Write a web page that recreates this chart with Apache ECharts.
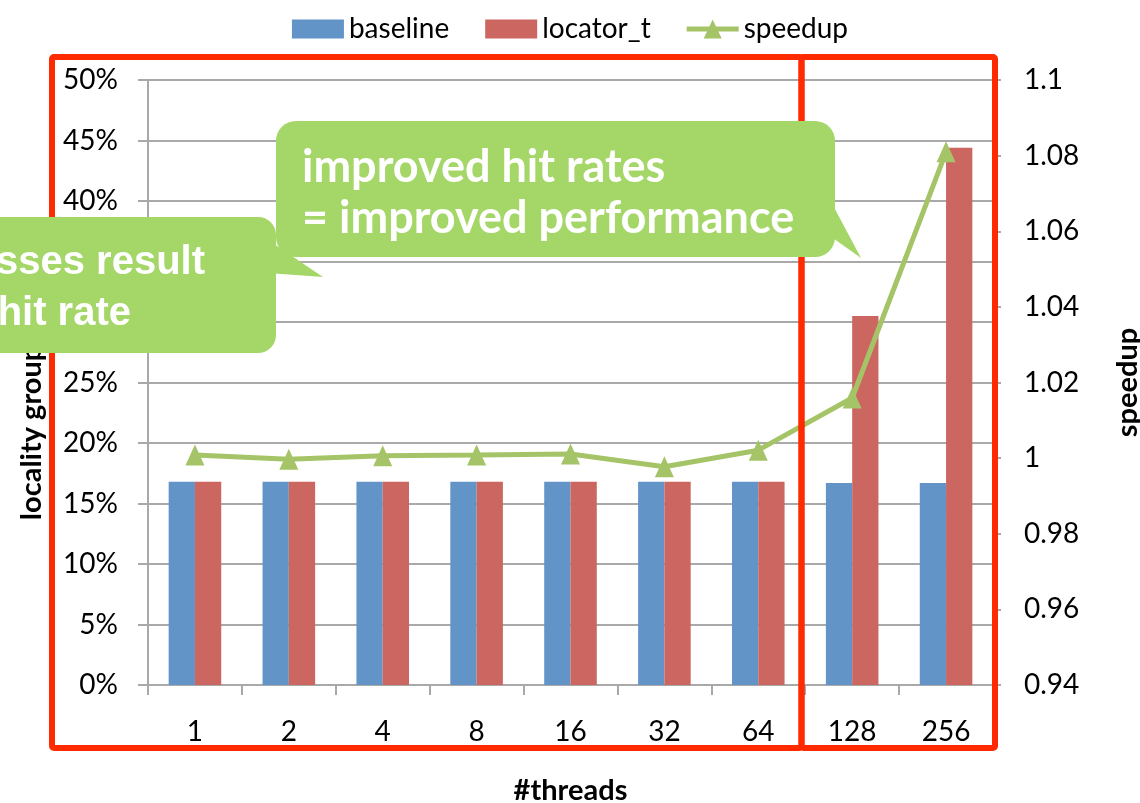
<!DOCTYPE html>
<html>
<head>
<meta charset="utf-8">
<title>locality group hit rate and speedup</title>
<script src="https://cdn.jsdelivr.net/npm/echarts@6.0.0/dist/echarts.min.js"></script>
<style>
  html, body { margin: 0; padding: 0; background: #ffffff; }
  #chart { width: 1140px; height: 803px; }
</style>
</head>
<body>
<div id="chart"></div>
<script>
// Thread counts on the x axis
const categories = ['1', '2', '4', '8', '16', '32', '64', '128', '256'];
// Locality group hit rate (%) per configuration
const baseline = [16.8, 16.8, 16.8, 16.8, 16.8, 16.8, 16.8, 16.7, 16.7];
const locatorT = [16.8, 16.8, 16.8, 16.8, 16.8, 16.8, 16.8, 30.5, 44.4];
// Speedup of locator_t over baseline
const speedup = [1.0008, 0.9997, 1.0006, 1.0008, 1.0011, 0.9977, 1.0021, 1.0159, 1.081];

// Axis ranges
const hitRateAxis = { min: 0, max: 50, interval: 5 };
const speedupAxis = { min: 0.94, max: 1.1, interval: 0.02 };

// Callout text
const leftNote = ['fewer misses result', 'in higher hit rate'];
const rightNote = ['improved hit rates', '= improved performance'];

const GRID = '#a9a9a9';
const LABEL_FONT = 'Lato, "Noto Sans", sans-serif';
const NOTE_GREEN = '#a4d668';
const FRAME_RED = '#ff2a00';
const LINE_GREEN = '#a5c467';

// legend glyph for the speedup series: a thick line with a triangle marker
const LINE_MARKER_ICON = 'path://M0 7 L52 7 L52 12 L0 12 Z M26 0 L35 19 L17 19 Z';

const chart = echarts.init(document.getElementById('chart'), null, { renderer: 'canvas' });

const option = {
  backgroundColor: '#ffffff',
  animation: false,
  textStyle: { fontFamily: LABEL_FONT },
  legend: {
    top: 10,
    left: 'center',
    itemWidth: 52,
    itemHeight: 19,
    itemGap: 36,
    textStyle: { fontSize: 28, color: '#000', fontFamily: LABEL_FONT },
    data: [
      { name: 'baseline', icon: 'rect' },
      { name: 'locator_t', icon: 'rect' },
      { name: 'speedup', icon: LINE_MARKER_ICON, itemStyle: { color: LINE_GREEN, borderWidth: 0 } }
    ]
  },
  grid: { left: 148, right: 147, top: 80, bottom: 118, containLabel: false, outerBoundsMode: 'none' },
  xAxis: {
    type: 'category',
    data: categories,
    name: '#threads',
    nameLocation: 'middle',
    nameGap: 91,
    nameTextStyle: { fontSize: 29, fontWeight: 'bold', color: '#000', fontFamily: LABEL_FONT },
    axisLine: { lineStyle: { color: GRID, width: 2 } },
    axisTick: { show: true, length: 10, lineStyle: { color: GRID, width: 2 } },
    axisLabel: { margin: 33, fontSize: 28, color: '#000', fontFamily: LABEL_FONT }
  },
  yAxis: [
    {
      type: 'value',
      min: hitRateAxis.min,
      max: hitRateAxis.max,
      interval: hitRateAxis.interval,
      name: 'locality group hit rate',
      nameLocation: 'middle',
      nameGap: 102,
      nameTextStyle: { fontSize: 29, fontWeight: 'bold', color: '#000', fontFamily: LABEL_FONT },
      axisLine: { show: true, lineStyle: { color: GRID, width: 2 } },
      axisTick: { show: true, length: 10, lineStyle: { color: GRID, width: 2 } },
      axisLabel: { margin: 30, fontSize: 28, color: '#000', fontFamily: LABEL_FONT, formatter: '{value}%' },
      splitLine: { show: true, lineStyle: { color: GRID, width: 2 } }
    },
    {
      type: 'value',
      position: 'right',
      min: speedupAxis.min,
      max: speedupAxis.max,
      interval: speedupAxis.interval,
      name: 'speedup',
      nameLocation: 'middle',
      nameGap: 120,
      nameTextStyle: { fontSize: 29, fontWeight: 'bold', color: '#000', fontFamily: LABEL_FONT },
      axisLine: { show: true, lineStyle: { color: GRID, width: 2 } },
      axisTick: { show: true, length: 8, lineStyle: { color: GRID, width: 2 } },
      axisLabel: {
        margin: 31, fontSize: 28, color: '#000', fontFamily: LABEL_FONT,
        formatter: (v) => String(parseFloat(v.toFixed(2)))
      },
      splitLine: { show: false }
    }
  ],
  series: [
    {
      name: 'baseline',
      type: 'bar',
      data: baseline,
      barWidth: '28%',
      barGap: '0%',
      itemStyle: { color: '#6394c8' }
    },
    {
      name: 'locator_t',
      type: 'bar',
      data: locatorT,
      barWidth: '28%',
      barGap: '0%',
      itemStyle: { color: '#cc6660' }
    },
    {
      name: 'speedup',
      type: 'line',
      yAxisIndex: 1,
      data: speedup,
      z: 5,
      symbol: 'triangle',
      symbolSize: [19, 21],
      lineStyle: { color: LINE_GREEN, width: 5 },
      itemStyle: { color: LINE_GREEN }
    }
  ],
  graphic: [
    // red frames around the two thread ranges
    {
      type: 'rect', z: 100,
      shape: { x: 52, y: 57, width: 749.5, height: 691, r: 2 },
      style: { fill: null, stroke: FRAME_RED, lineWidth: 6 }
    },
    {
      type: 'rect', z: 100,
      shape: { x: 801.5, y: 57, width: 193.5, height: 691, r: 2 },
      style: { fill: null, stroke: FRAME_RED, lineWidth: 6 }
    },
    // left callout
    {
      type: 'rect', z: 110,
      shape: { x: -40, y: 217, width: 316, height: 136, r: 18 },
      style: { fill: NOTE_GREEN }
    },
    {
      type: 'polygon', z: 110,
      shape: { points: [[268, 240], [323, 277], [268, 273]] },
      style: { fill: NOTE_GREEN }
    },
    {
      type: 'text', z: 111, x: 205, y: 263,
      style: {
        text: leftNote[0], fill: '#ffffff', fontSize: 40, fontWeight: 'bold',
        fontFamily: '"Liberation Sans", Arial, sans-serif',
        align: 'right', textAlign: 'right', verticalAlign: 'middle', textVerticalAlign: 'middle'
      }
    },
    {
      type: 'text', z: 111, x: 131, y: 314,
      style: {
        text: leftNote[1], fill: '#ffffff', fontSize: 40, fontWeight: 'bold',
        fontFamily: '"Liberation Sans", Arial, sans-serif',
        align: 'right', textAlign: 'right', verticalAlign: 'middle', textVerticalAlign: 'middle'
      }
    },
    // right callout
    {
      type: 'rect', z: 110,
      shape: { x: 276, y: 121, width: 559, height: 136, r: 20 },
      style: { fill: NOTE_GREEN }
    },
    {
      type: 'polygon', z: 110,
      shape: { points: [[828, 196], [861, 258], [830, 236]] },
      style: { fill: NOTE_GREEN }
    },
    {
      type: 'text', z: 111, x: 302, y: 167,
      style: {
        text: rightNote[0], fill: '#ffffff', fontSize: 45, fontWeight: 'bold',
        fontFamily: LABEL_FONT,
        align: 'left', textAlign: 'left', verticalAlign: 'middle', textVerticalAlign: 'middle'
      }
    },
    {
      type: 'text', z: 111, x: 302, y: 218,
      style: {
        text: rightNote[1], fill: '#ffffff', fontSize: 45, fontWeight: 'bold',
        fontFamily: LABEL_FONT,
        align: 'left', textAlign: 'left', verticalAlign: 'middle', textVerticalAlign: 'middle'
      }
    }
  ]
};

chart.setOption(option);
</script>
</body>
</html>
